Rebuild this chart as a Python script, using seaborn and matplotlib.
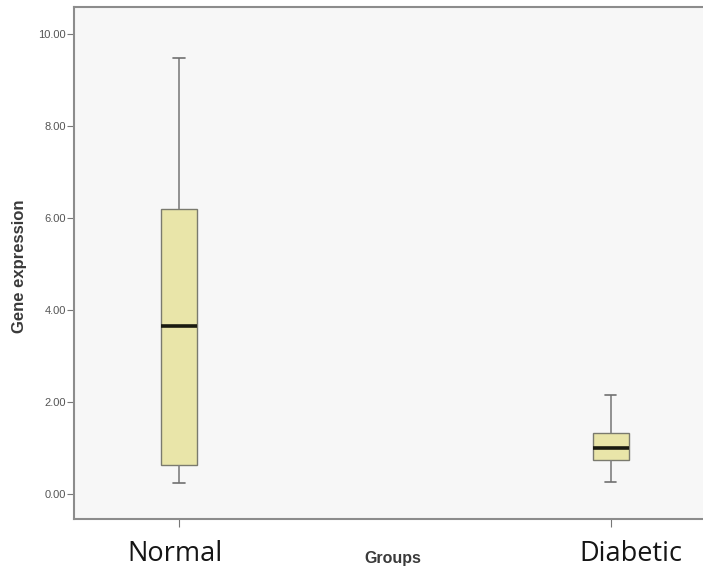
import matplotlib
matplotlib.use("Agg")
import matplotlib.pyplot as plt
import matplotlib.transforms as mtransforms
import seaborn as sns
import pandas as pd

# five-number summaries: [min, Q1, median, Q3, max]
groups = ["Normal", "Diabetic"]
normal_values = [0.24, 0.63, 3.65, 6.20, 9.48]
diabetic_values = [0.26, 0.74, 1.00, 1.33, 2.15]
y_ticks = [0, 2, 4, 6, 8, 10]
y_tick_labels = ["0.00", "2.00", "4.00", "6.00", "8.00", "10.00"]

df = pd.DataFrame({
    "Groups": [groups[0]] * len(normal_values) + [groups[1]] * len(diabetic_values),
    "Gene expression": normal_values + diabetic_values,
})

sns.set_style("white")
fig = plt.figure(figsize=(7.03, 5.69), dpi=100)
fig.patch.set_facecolor("white")
ax = fig.add_axes([74 / 703, 1 - 519 / 569, 1 - 74 / 703 + 0.01, (519 - 7) / 569])
ax.set_facecolor("#f7f7f7")

sns.boxplot(
    data=df, x="Groups", y="Gene expression", order=groups, ax=ax,
    whis=(0, 100), width=0.083, color="#e9e5a9", saturation=1,
    linecolor="#7a7a6e", linewidth=1.0,
    medianprops=dict(color="#1a1a10", linewidth=2.6),
    whiskerprops=dict(color="#808080", linewidth=1.2),
    capprops=dict(color="#707070", linewidth=1.2),
    capwidths=0.026,
    showfliers=False,
)
ax.set_xlim(-0.243, 1.23)
ax.set_ylim(-0.54, 10.59)

ax.set_yticks(y_ticks)
ax.set_yticklabels(y_tick_labels, fontsize=8, color="#555555", family="Liberation Sans")
ax.tick_params(axis="y", direction="out", length=5, width=0.8, color="#777777", pad=1, left=True)
ax.tick_params(axis="x", direction="out", length=6, width=0.8, color="#777777", pad=9, bottom=True)
ax.set_xticks([0, 1])
ax.set_xticklabels(groups, fontsize=19.5, color="#151515", family="Open Sans")
offsets = [-4, 20]
for lab, dx in zip(ax.get_xticklabels(), offsets):
    lab.set_transform(lab.get_transform() + mtransforms.ScaledTranslation(dx / 100, 0, fig.dpi_scale_trans))

for s in ["left", "bottom", "top"]:
    ax.spines[s].set_visible(True)
    ax.spines[s].set_color("#8c8c8c")
    ax.spines[s].set_linewidth(1.5)
ax.spines["right"].set_visible(False)

ax.set_xlabel("")
ax.set_ylabel("")
fig.text(393 / 703, 1 - 558 / 569, "Groups", ha="center", va="center",
         fontsize=11.5, fontweight="bold", color="#3a3a3a", family="Liberation Sans")
fig.text(20 / 703, 1 - 266 / 569, "Gene expression", ha="center", va="center",
         rotation=90, fontsize=12, fontweight="bold", color="#3a3a3a", family="Liberation Sans")

fig.savefig("out.png", dpi=100, facecolor="white")
